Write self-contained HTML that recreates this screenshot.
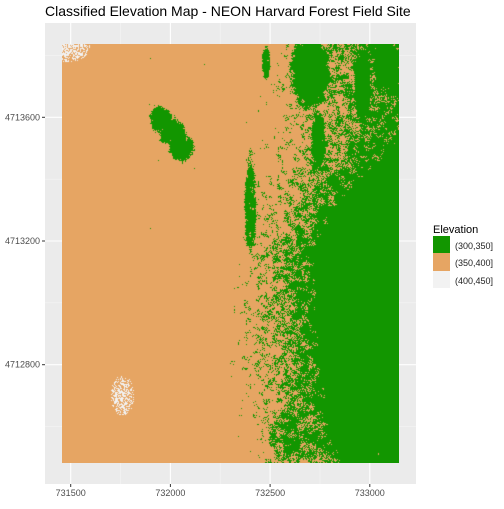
<!DOCTYPE html>
<html><head><meta charset="utf-8"><style>
body{margin:0;width:504px;height:504px;background:#fff;overflow:hidden;font-family:"Liberation Sans",Arial,sans-serif}
svg text{font-family:"Liberation Sans",Arial,sans-serif}
</style></head><body>
<svg width="504" height="504">
<text x="45" y="16" font-size="14" fill="#000">Classified Elevation Map - NEON Harvard Forest Field Site</text>
<rect x="45" y="23" width="371" height="461" fill="#ebebeb"/>
<g id="grid"></g>
<foreignObject x="62" y="44" width="337" height="419"><canvas id="cv" width="337" height="419" style="display:block"></canvas></foreignObject>
<g id="axes"></g>
<text x="433" y="233" font-size="11">Elevation</text>
<g><rect x="433" y="236" width="17" height="17" fill="#129600"/><text x="455" y="249" font-size="9" fill="#222">(300,350]</text></g>
<g><rect x="433" y="253" width="17" height="18" fill="#e6a563"/><text x="455" y="266" font-size="9" fill="#222">(350,400]</text></g>
<g><rect x="433" y="271" width="17" height="17" fill="#f2f2f2"/><text x="455" y="284" font-size="9" fill="#222">(400,450]</text></g>
</svg>
<script>
const xTicks=[731500,732000,732500,733000];
const yTicks=[4713600,4713200,4712800];
const xMinor=[731750,732250,732750];
const yMinor=[4713800,4713400,4713000,4712600];
const sx=v=>70.7+(v-731500)*(99.7/500);
const sy=v=>117.3+(4713600-v)*(123.7/400);
const NS='http://www.w3.org/2000/svg';
const grid=document.getElementById('grid'),axes=document.getElementById('axes');
function ln(p,x1,y1,x2,y2,c,w,nm){const l=document.createElementNS(NS,'line');l.setAttribute('x1',x1);l.setAttribute('y1',y1);l.setAttribute('x2',x2);l.setAttribute('y2',y2);l.setAttribute('stroke',c);l.setAttribute('stroke-width',w);


p.appendChild(l);}
function tx(p,x,y,s,a,nm){const t=document.createElementNS(NS,'text');t.setAttribute('x',x);t.setAttribute('y',y);t.setAttribute('font-size','9');t.setAttribute('fill','#4d4d4d');t.setAttribute('text-anchor',a);t.textContent=s;


p.appendChild(t);}
xMinor.forEach(v=>ln(grid,sx(v),23,sx(v),484,'#f5f5f5',0.6,'x-minor-gridline'));
yMinor.forEach(v=>{if(sy(v)>23&&sy(v)<484)ln(grid,45,sy(v),416,sy(v),'#f5f5f5',0.6,'y-minor-gridline')});
xTicks.forEach(v=>{ln(grid,sx(v),23,sx(v),484,'#fff',1.1,'x-gridline');ln(axes,sx(v),484,sx(v),487,'#333',1,'x-tick');tx(axes,sx(v),496,String(v),'middle','x-tick-label')});
yTicks.forEach(v=>{ln(grid,45,sy(v),416,sy(v),'#fff',1.1,'y-gridline');ln(axes,42,sy(v),45,sy(v),'#333',1,'y-tick');tx(axes,40,sy(v)+3,String(v),'end','y-tick-label')});

const rowY=[44,120,200,250,300,350,400,463];
const solidX=[420,420,340,312,316,318,325,340];
const mixStart=[255,245,235,230,228,228,230,232];
const blobs=[[160,118,11,12,0.95],[172,133,13,14,0.95],[181,148,12,13,0.95],[250,205,6,50,0.8],[310,72,20,38,0.96],[318,140,8,32,0.85],[362,85,9,42,0.96],[386,65,15,24,0.97],[266,62,4,18,0.8],[397,172,4,12,0.9],[355,235,45,22,0.85],[285,435,18,30,0.6]];
const whites=[[66,46,24,16,0.7],[122,395,12,20,0.6]];
const G=[18,150,0],O=[230,165,99],W=[242,242,242];
function hash(x,y){let h=(x*374761393+y*668265263)|0;h=(h^(h>>>13))*1274126177|0;return ((h^(h>>>16))>>>0)/4294967296;}
function smooth(x,y,s){const gx=x/s,gy=y/s,x0=Math.floor(gx),y0=Math.floor(gy),fx=gx-x0,fy=gy-y0;
const a=hash(x0,y0+999),b=hash(x0+1,y0+999),c=hash(x0,y0+1000),d=hash(x0+1,y0+1000);
return (a*(1-fx)+b*fx)*(1-fy)+(c*(1-fx)+d*fx)*fy;}
function interp(arr,y){for(let i=0;i<rowY.length-1;i++){if(y<=rowY[i+1]){const t=(y-rowY[i])/(rowY[i+1]-rowY[i]);return arr[i]+(arr[i+1]-arr[i])*t;}}return arr[arr.length-1];}
const cv=document.getElementById('cv'),ctx=cv.getContext('2d'),img=ctx.createImageData(337,419);
for(let j=0;j<419;j++){for(let i=0;i<337;i++){const px=62+i,py=44+j;
let d=px>140?(py<300?0.035:0.015):0.004;
const s=interp(solidX,py),m=interp(mixStart,py);
if(px>=s)d=0.97;else if(px>m){const t=(px-m)/(Math.min(s,400)-m);d=Math.max(d,0.06+0.68*t);}
if(py<215&&px>275){const t=Math.min(1,(px-275)/40);d=Math.max(d,0.15+0.32*t);}
for(const b of blobs){const e=((px-b[0])/b[2])**2+((py-b[1])/b[3])**2;const f=Math.min(1,Math.max(0,1.5-e));d=Math.max(d,b[4]*f);if(e<2.5)d=Math.max(d,0.1);}
let wd=0;for(const w of whites){const e=((px-w[0])/w[2])**2+((py-w[1])/w[3])**2;if(e<1)wd=Math.max(wd,w[4]*(1-e*0.6));}
const r=0.45*hash(i,j)+0.55*smooth(i,j,4);
const r2=hash(i+7777,j+3333);
let c=O;if(r2<wd)c=W;else if(r<d)c=G;
const k=(j*337+i)*4;img.data[k]=c[0];img.data[k+1]=c[1];img.data[k+2]=c[2];img.data[k+3]=255;}}
ctx.putImageData(img,0,0);
</script>
</body></html>
